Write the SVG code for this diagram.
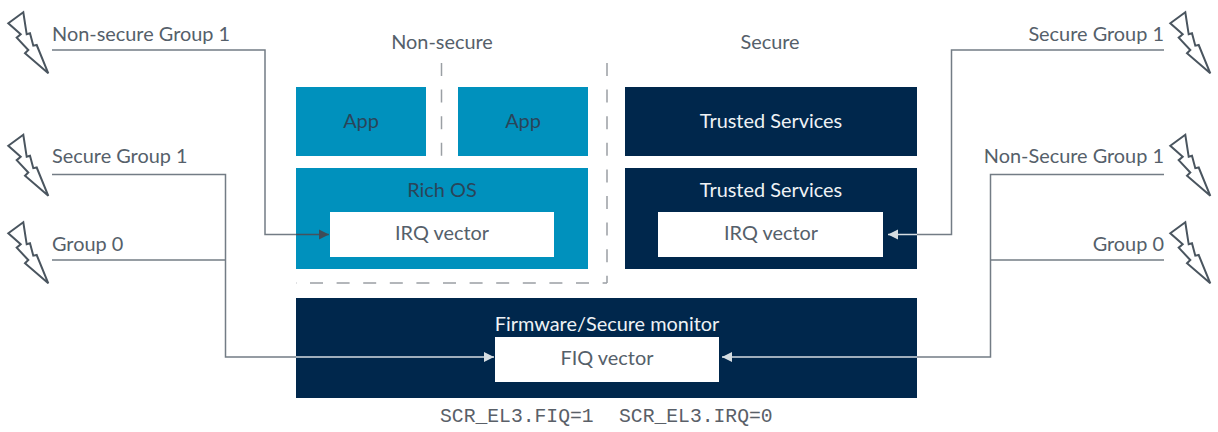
<svg xmlns="http://www.w3.org/2000/svg" xmlns:xlink="http://www.w3.org/1999/xlink" width="1218" height="432" viewBox="0 0 1218 432">
<style>
text{font-family:Lato,"Noto Sans","Liberation Sans",sans-serif;font-size:19.9px;fill:#55606a}
.m{text-anchor:middle}.e{text-anchor:end}
.w{fill:#eef2f5}.a{fill:#2a4559}
.mono{font-family:"Liberation Mono",monospace;font-size:19.7px;fill:#5a6068}
.blue{fill:#0091bd}.navy{fill:#00274c}.white{fill:#fff}
.line{fill:none;stroke:#737c85;stroke-width:1.5}
.light{fill:none;stroke:#d5dde2;stroke-width:1.5}
.dash{fill:none;stroke:#9a9fa4;stroke-width:1.5;stroke-dasharray:13 13.6}
.bolt{fill:#fff;stroke:#4a555f;stroke-width:2;stroke-linejoin:miter}
</style>
<defs>
<polygon id="bolt" class="bolt" points="23.3,12.3 8.3,23.3 20.7,34.3 16.7,37.7 28.3,50 25,53.3 48.3,73.3 36.7,45 33.3,45.7 30,33.3 26.7,34.3"/>
<marker id="ad" markerUnits="userSpaceOnUse" markerWidth="12" markerHeight="12" refX="10" refY="6" orient="auto"><path d="M0,1 L10,6 L0,11 Z" fill="#3f4c58"/></marker>
<marker id="al" markerUnits="userSpaceOnUse" markerWidth="12" markerHeight="12" refX="10" refY="6" orient="auto"><path d="M0,1 L10,6 L0,11 Z" fill="#d5dde2"/></marker>
</defs>
<g id="boundaries">
<path class="dash" d="M441.5 63V156"/>
<path class="dash" d="M607 63V283"/>
<path class="dash" d="M296 283H607" stroke-dashoffset="12.6"/>
</g>
<g id="app-1"><rect class="blue" x="296" y="87" width="130" height="69"/><text class="m a" x="361" y="128">App</text></g>
<g id="app-2"><rect class="blue" x="458" y="87" width="130" height="69"/><text class="m a" x="523" y="128">App</text></g>
<g id="rich-os"><rect class="blue" x="296" y="168" width="292" height="101"/><text class="m a" x="442" y="197">Rich OS</text></g>
<g id="irq-ns"><rect class="white" x="330" y="212" width="224" height="45"/><text class="m" x="442" y="240">IRQ vector</text></g>
<g id="trusted-1"><rect class="navy" x="625" y="87" width="292" height="69"/><text class="m w" x="771" y="128">Trusted Services</text></g>
<g id="trusted-2"><rect class="navy" x="625" y="168" width="292" height="101"/><text class="m w" x="771" y="197">Trusted Services</text></g>
<g id="irq-s"><rect class="white" x="658" y="212" width="225" height="45"/><text class="m" x="771" y="240">IRQ vector</text></g>
<g id="firmware"><rect class="navy" x="296" y="298" width="621" height="100"/><text class="m w" x="607" y="331">Firmware/Secure monitor</text></g>
<g id="fiq"><rect class="white" x="495" y="337" width="224" height="45"/><text class="m" x="607" y="365">FIQ vector</text></g>
<g id="connectors">
<path class="line" d="M52 50H265V234.5H296"/>
<path class="line" d="M296 234.5H329" style="stroke:#46525d" marker-end="url(#ad)"/>
<path class="line" d="M52 174.5H225.5V357H296"/>
<path class="line" d="M52 260H225.5"/>
<path class="light" d="M296 357H494" marker-end="url(#al)"/>
<path class="line" d="M1164 50H951.5V234.5H917"/>
<path class="light" d="M917 234.5H888" marker-end="url(#al)"/>
<path class="line" d="M1164 174.5H990.5V357H917"/>
<path class="line" d="M1164 260H990.5"/>
<path class="light" d="M917 357H722" marker-end="url(#al)"/>
</g>
<g id="label-left">
<use xlink:href="#bolt" href="#bolt"/><text x="52" y="40.500">Non-secure Group 1</text>
<use xlink:href="#bolt" href="#bolt" y="122.500"/><text x="52" y="162.500">Secure Group 1</text>
<use xlink:href="#bolt" href="#bolt" y="210"/><text x="52" y="250.500">Group 0</text>
</g>
<g id="label-right">
<use xlink:href="#bolt" href="#bolt" x="1162"/><text class="e" x="1164" y="40.500">Secure Group 1</text>
<use xlink:href="#bolt" href="#bolt" x="1162" y="122.500"/><text class="e" x="1164" y="162.500">Non-Secure Group 1</text>
<use xlink:href="#bolt" href="#bolt" x="1162" y="210"/><text class="e" x="1164" y="250.500">Group 0</text>
</g>
<text class="m" x="442" y="48.500">Non-secure</text>
<text class="m" x="770" y="48.500">Secure</text>
<text class="mono" x="440" y="422">SCR_EL3.FIQ=1</text>
<text class="mono" x="619" y="422">SCR_EL3.IRQ=0</text>
</svg>
